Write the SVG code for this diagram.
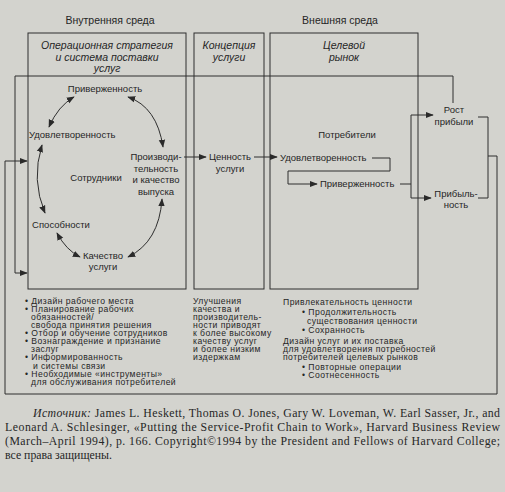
<svg xmlns="http://www.w3.org/2000/svg" width="505" height="492" viewBox="0 0 505 492">
<defs>
<marker id="ah" viewBox="0 0 10 10" refX="9" refY="5" markerWidth="8" markerHeight="8" orient="auto-start-reverse" markerUnits="userSpaceOnUse"><path d="M0,1 L10,5 L0,9 z" fill="#2a2a2a"/></marker>
<style>
text{font-family:"Liberation Sans",Arial,sans-serif;fill:#262626;}
.hd{font-size:10.5px;text-anchor:middle;}
.it{font-size:10.5px;font-style:italic;text-anchor:middle;}
.n{font-size:9.5px;text-anchor:middle;}
.ns{font-size:9.5px;}
.l{font-size:8.6px;letter-spacing:0.45px;}
.src{font-family:"Liberation Serif","Times New Roman",serif;font-size:11.8px;}
.box{fill:none;stroke:#2e2e2e;stroke-width:1;}
.c{fill:none;stroke:#2e2e2e;stroke-width:1;}
.a{marker-end:url(#ah);}
.aa{marker-start:url(#ah);marker-end:url(#ah);}
</style>
</defs>
<rect width="505" height="492" fill="#d3d3ce"/>

<g id="headers">
<text class="hd" x="110" y="24">Внутренняя среда</text>
<text class="hd" x="340" y="24">Внешняя среда</text>
</g>

<g id="operations">
<rect class="box" x="28" y="33" width="158" height="256"/>
<text class="it" x="107" y="49">Операционная стратегия</text>
<text class="it" x="107" y="61">и система поставки</text>
<text class="it" x="107" y="72">услуг</text>
</g>

<g id="concept">
<rect class="box" x="194" y="33" width="70" height="256"/>
<text class="it" x="229" y="49">Концепция</text>
<text class="it" x="229" y="61">услуги</text>
</g>

<g id="market">
<rect class="box" x="270" y="33" width="148" height="256"/>
<text class="it" x="344" y="49">Целевой</text>
<text class="it" x="344" y="61">рынок</text>
</g>

<g id="n-loyalty-emp"><text class="n" x="105" y="92">Приверженность</text></g>
<g id="n-satisf-emp"><text class="ns" x="29" y="138">Удовлетворенность</text></g>
<g id="n-employees"><text class="n" x="96" y="181">Сотрудники</text></g>
<g id="n-productivity">
<text class="n" x="156" y="160">Производи-</text>
<text class="n" x="156" y="171.5">тельность</text>
<text class="n" x="156" y="183">и качество</text>
<text class="n" x="156" y="194.5">выпуска</text>
</g>
<g id="n-capability"><text class="n" x="61" y="228">Способности</text></g>
<g id="n-quality">
<text class="n" x="103" y="259">Качество</text>
<text class="n" x="103" y="270">услуги</text>
</g>
<g id="n-value">
<text class="n" x="230" y="160">Ценность</text>
<text class="n" x="230" y="172">услуги</text>
</g>
<g id="n-customers"><text class="n" x="347" y="138">Потребители</text></g>
<g id="n-satisf-cust"><text class="ns" x="280" y="161">Удовлетворенность</text></g>
<g id="n-loyalty-cust"><text class="ns" x="320" y="187">Приверженность</text></g>
<g id="n-growth">
<text class="n" x="454" y="113">Рост</text>
<text class="n" x="454" y="125">прибыли</text>
</g>
<g id="n-profit">
<text class="n" x="456" y="197">Прибыль-</text>
<text class="n" x="456" y="208">ность</text>
</g>

<g id="connectors">
<path class="c a" d="M453,103 V76 H15 V273 H27"/>
<path class="c" d="M478,117 H488 V198 H478"/>
<path class="c a" d="M488,156 H497 V394 H5 V161 H27"/>
<path class="c a" d="M184,157 H206"/>
<path class="c a" d="M254,157 H277"/>
<path class="c a" d="M372,158 H390 V171 H288 V184 H317"/>
<path class="c a" d="M411,184 V115 H433"/>
<path class="c a" d="M400,184 H411 V198 H431"/>
<path class="c aa" d="M74,97 Q58,106 49,127"/>
<path class="c aa" d="M128,97 Q157,107 163,147"/>
<path class="c aa" d="M42,145 Q31,180 45,213"/>
<path class="c aa" d="M57,233 Q66,250 80,257"/>
<path class="c aa" d="M162,199 Q159,242 128,257"/>
</g>

<g id="list-operations">
<text class="l" x="25" y="304">• Дизайн рабочего места</text>
<text class="l" x="25" y="312">• Планирование рабочих</text>
<text class="l" x="31" y="320">обязанностей/</text>
<text class="l" x="31" y="328">свобода принятия решения</text>
<text class="l" x="25" y="336">• Отбор и обучение сотрудников</text>
<text class="l" x="25" y="344">• Вознаграждение и признание</text>
<text class="l" x="31" y="352">заслуг</text>
<text class="l" x="25" y="360">• Информированность</text>
<text class="l" x="33" y="368.5">и системы связи</text>
<text class="l" x="25" y="376.5">• Необходимые «инструменты»</text>
<text class="l" x="31" y="385">для обслуживания потребителей</text>
</g>

<g id="list-concept">
<text class="l" x="193" y="304">Улучшения</text>
<text class="l" x="193" y="312">качества и</text>
<text class="l" x="193" y="320">производитель-</text>
<text class="l" x="193" y="328">ности приводят</text>
<text class="l" x="193" y="336">к более высокому</text>
<text class="l" x="193" y="344">качеству услуг</text>
<text class="l" x="193" y="352">и более низким</text>
<text class="l" x="193" y="360">издержкам</text>
</g>

<g id="list-market">
<text class="l" x="283" y="305">Привлекательность ценности</text>
<text class="l" x="302" y="315">• Продолжительность</text>
<text class="l" x="307" y="324">существования ценности</text>
<text class="l" x="302" y="333">• Сохранность</text>
<text class="l" x="283" y="344">Дизайн услуг и их поставка</text>
<text class="l" x="283" y="352">для удовлетворения потребностей</text>
<text class="l" x="283" y="360">потребителей целевых рынков</text>
<text class="l" x="302" y="370">• Повторные операции</text>
<text class="l" x="302" y="378">• Соотнесенность</text>
</g>

<g id="source">
<text class="src" x="33" y="417" textLength="467" lengthAdjust="spacing"><tspan font-style="italic">Источник:</tspan> James L. Heskett, Thomas O. Jones, Gary W. Loveman, W. Earl Sasser, Jr., and</text>
<text class="src" x="5" y="431" textLength="495" lengthAdjust="spacing">Leonard A. Schlesinger, «Putting the Service-Profit Chain to Work», Harvard Business Review</text>
<text class="src" x="5" y="445" textLength="495" lengthAdjust="spacing">(March–April 1994), p. 166. Copyright©1994 by the President and Fellows of Harvard College;</text>
<text class="src" x="5" y="459">все права защищены.</text>
</g>
</svg>
